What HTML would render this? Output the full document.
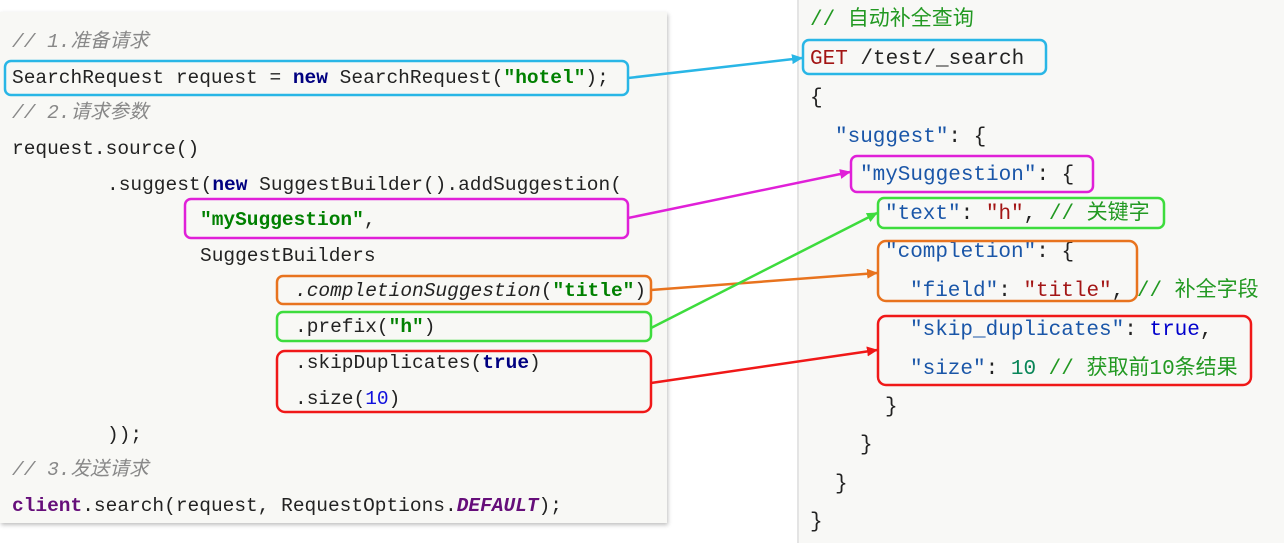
<!DOCTYPE html>
<html><head><meta charset="utf-8"><style>
body{margin:0;width:1284px;height:543px;background:#fff;position:relative;overflow:hidden;font-family:"Liberation Mono","Noto Sans CJK SC",monospace}
#lp{position:absolute;left:0;top:12px;width:667px;height:511px;background:#f8f8f5;box-shadow:1px 2px 4px rgba(0,0,0,.25)}
#rp{position:absolute;left:797px;top:0;width:487px;height:543px;background:#f8f8f6;border-left:2px solid #e4e4e4}
.l{position:absolute;font-size:19.5px;white-space:pre;color:#222;line-height:22px}
.r{position:absolute;font-size:21px;white-space:pre;color:#222;line-height:24px}
.c{color:#888;font-style:italic}
.k{color:#000080;font-weight:bold}
.s{color:#008000;font-weight:bold}
.b{color:#1a56a8}.v{color:#a31515}.g{color:#229922}.t{color:#0000cc}.n{color:#098658}
</style></head><body>
<div id="lp"></div><div id="rp"></div>
<div class="l c" style="left:12px;top:31px">// 1.准备请求</div>
<div class="l" style="left:12px;top:67px">SearchRequest request = <span class="k">new</span> SearchRequest(<span class="s">"hotel"</span>);</div>
<div class="l c" style="left:12px;top:102px">// 2.请求参数</div>
<div class="l" style="left:12px;top:138px">request.source()</div>
<div class="l" style="left:107px;top:174px">.suggest(<span class="k">new</span> SuggestBuilder().addSuggestion(</div>
<div class="l" style="left:200px;top:209px"><span class="s">"mySuggestion"</span>,</div>
<div class="l" style="left:200px;top:245px">SuggestBuilders</div>
<div class="l" style="left:295px;top:280px"><i>.completionSuggestion</i>(<span class="s">"title"</span>)</div>
<div class="l" style="left:295px;top:316px">.prefix(<span class="s">"h"</span>)</div>
<div class="l" style="left:295px;top:352px">.skipDuplicates(<span class="k">true</span>)</div>
<div class="l" style="left:295px;top:388px">.size(<span style="color:#1010dd">10</span>)</div>
<div class="l" style="left:107px;top:424px">));</div>
<div class="l c" style="left:12px;top:459px">// 3.发送请求</div>
<div class="l" style="left:12px;top:495px"><span style="color:#660e7a;font-weight:bold">client</span>.search(request, RequestOptions.<b style="color:#660e7a;font-style:italic">DEFAULT</b>);</div>

<div class="r g" style="left:810px;top:9px">// 自动补全查询</div>
<div class="r" style="left:810px;top:48px"><span class="v">GET</span> /test/_search</div>
<div class="r" style="left:810px;top:87px">{</div>
<div class="r" style="left:835px;top:126px"><span class="b">"suggest"</span>: {</div>
<div class="r" style="left:860px;top:164px"><span class="b">"mySuggestion"</span>: {</div>
<div class="r" style="left:885px;top:203px"><span class="b">"text"</span>: <span class="v">"h"</span>, <span class="g">// 关键字</span></div>
<div class="r" style="left:885px;top:241px"><span class="b">"completion"</span>: {</div>
<div class="r" style="left:910px;top:280px"><span class="b">"field"</span>: <span class="v">"title"</span>, <span class="g">// 补全字段</span></div>
<div class="r" style="left:910px;top:319px"><span class="b">"skip_duplicates"</span>: <span class="t">true</span>,</div>
<div class="r" style="left:910px;top:358px"><span class="b">"size"</span>: <span class="n">10</span> <span class="g">// 获取前10条结果</span></div>
<div class="r" style="left:885px;top:396px">}</div>
<div class="r" style="left:860px;top:434px">}</div>
<div class="r" style="left:835px;top:473px">}</div>
<div class="r" style="left:810px;top:511px">}</div>

<svg width="1284" height="543" style="position:absolute;left:0;top:0" fill="none" stroke-width="2.5">
<defs>
<marker id="ab" markerWidth="11" markerHeight="10" refX="10" refY="5" orient="auto" markerUnits="userSpaceOnUse"><path d="M0,0L11,5L0,10z" fill="#29b6e6"/></marker>
<marker id="am" markerWidth="11" markerHeight="10" refX="10" refY="5" orient="auto" markerUnits="userSpaceOnUse"><path d="M0,0L11,5L0,10z" fill="#e020d8"/></marker>
<marker id="ao" markerWidth="11" markerHeight="10" refX="10" refY="5" orient="auto" markerUnits="userSpaceOnUse"><path d="M0,0L11,5L0,10z" fill="#e8731e"/></marker>
<marker id="ag" markerWidth="11" markerHeight="10" refX="10" refY="5" orient="auto" markerUnits="userSpaceOnUse"><path d="M0,0L11,5L0,10z" fill="#3ddc3d"/></marker>
<marker id="ar" markerWidth="11" markerHeight="10" refX="10" refY="5" orient="auto" markerUnits="userSpaceOnUse"><path d="M0,0L11,5L0,10z" fill="#f01818"/></marker>
</defs>
<rect x="5" y="61" width="623" height="34" rx="6" stroke="#29b6e6"/>
<rect x="185" y="199" width="443" height="39" rx="6" stroke="#e020d8"/>
<rect x="277" y="276" width="374" height="28" rx="6" stroke="#e8731e"/>
<rect x="277" y="312" width="374" height="29" rx="6" stroke="#3ddc3d"/>
<rect x="277" y="351" width="374" height="61" rx="8" stroke="#f01818"/>
<rect x="803" y="40" width="243" height="34" rx="6" stroke="#29b6e6"/>
<rect x="851" y="156" width="242" height="36" rx="6" stroke="#e020d8"/>
<rect x="878" y="198" width="286" height="30" rx="6" stroke="#3ddc3d"/>
<rect x="878" y="241" width="259" height="60" rx="8" stroke="#e8731e"/>
<rect x="878" y="316" width="373" height="69" rx="8" stroke="#f01818"/>
<line x1="628" y1="78" x2="802" y2="58" stroke="#29b6e6" marker-end="url(#ab)"/>
<line x1="628" y1="218" x2="850" y2="172" stroke="#e020d8" marker-end="url(#am)"/>
<line x1="651" y1="290" x2="877" y2="273" stroke="#e8731e" marker-end="url(#ao)"/>
<line x1="651" y1="328" x2="877" y2="213" stroke="#3ddc3d" marker-end="url(#ag)"/>
<line x1="651" y1="383" x2="877" y2="350" stroke="#f01818" marker-end="url(#ar)"/>
</svg>
</body></html>
